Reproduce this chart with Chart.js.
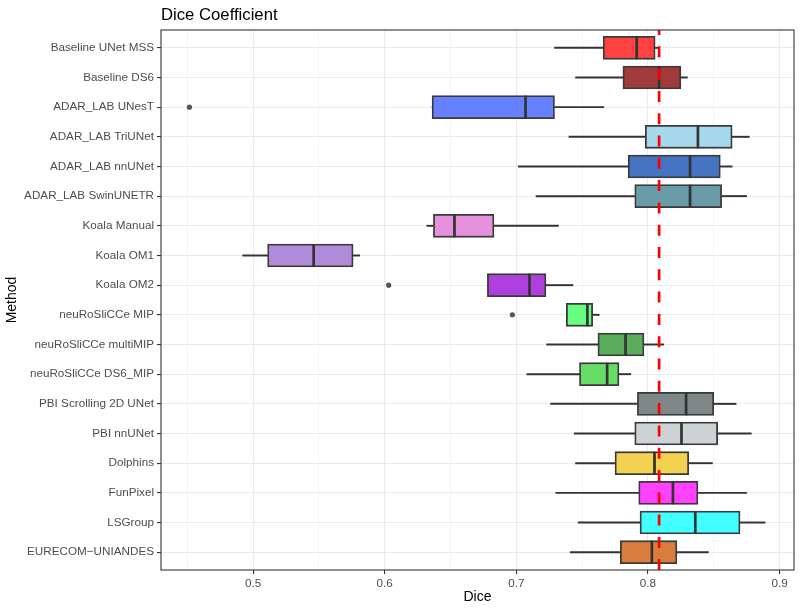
<!DOCTYPE html>
<html>
<head>
<meta charset="utf-8">
<script src="https://cdn.jsdelivr.net/npm/chart.js@4.4.1/dist/chart.umd.min.js"></script>
<style>
    body { margin: 0; background: #fff; }
    #wrap { width: 800px; height: 609px; }
</style>
</head>
<body>
<div id="wrap"><canvas id="diceChart" width="800" height="609"></canvas></div>
<script>

// methods, top to bottom
const methods = [
    "Baseline UNet MSS", "Baseline DS6", "ADAR_LAB UNesT", "ADAR_LAB TriUNet",
    "ADAR_LAB nnUNet", "ADAR_LAB SwinUNETR", "Koala Manual", "Koala OM1", "Koala OM2",
    "neuRoSliCCe MIP", "neuRoSliCCe multiMIP", "neuRoSliCCe DS6_MIP",
    "PBI Scrolling 2D UNet", "PBI nnUNet", "Dolphins", "FunPixel", "LSGroup", "EURECOM\u2212UNIANDES"
];

const lowWhisker  = [0.729, 0.745, 0.636, 0.740, 0.7015, 0.715, 0.632, 0.492, 0.678, 0.738, 0.723, 0.708, 0.726, 0.744, 0.745, 0.730, 0.747, 0.741];
const q1          = [0.766, 0.781, 0.636, 0.798, 0.785, 0.790, 0.637, 0.511, 0.678, 0.738, 0.762, 0.748, 0.792, 0.790, 0.775, 0.793, 0.794, 0.779];
const median      = [0.7915, 0.8085, 0.707, 0.838, 0.832, 0.832, 0.653, 0.546, 0.710, 0.754, 0.783, 0.769, 0.829, 0.8255, 0.805, 0.819, 0.836, 0.803];
const q3          = [0.8055, 0.825, 0.729, 0.864, 0.855, 0.856, 0.683, 0.576, 0.7225, 0.758, 0.797, 0.778, 0.850, 0.853, 0.831, 0.838, 0.870, 0.822];
const highWhisker = [0.808, 0.830, 0.7665, 0.877, 0.864, 0.875, 0.732, 0.581, 0.743, 0.763, 0.812, 0.787, 0.867, 0.8785, 0.849, 0.875, 0.889, 0.846];

const outlierMethods = ["ADAR_LAB UNesT", "Koala OM2", "neuRoSliCCe MIP"];
const outlierValues  = [0.4516, 0.603, 0.697];

const meanDice = 0.8085;

const xTicks = [0.5, 0.6, 0.7, 0.8, 0.9];

const boxColors = [
    "#FF4141", "#A13B3B", "#6680FF", "#A6D8EE", "#4474C2", "#6A9CA8",
    "#E591DD", "#B08BDA", "#B040DE", "#66FF7F", "#5AAB5A", "#66DD66",
    "#7F8888", "#CDD2D5", "#F2D250", "#FF41FF", "#41FFFF", "#D97D3F"
];

const FONT = "'Liberation Sans', Arial, sans-serif";

const idx = (name) => methods.indexOf(name);

const isMajor = (v) => xTicks.some(t => Math.abs(t - v) < 1e-6);

const extras = {
    id: "extras",
    afterDatasetsDraw(chart) {
        const { ctx, chartArea: a, scales } = chart;
        const x = scales.x.getPixelForValue(meanDice);
        ctx.save();
        ctx.strokeStyle = "#FF0000";
        ctx.lineWidth = 2.7;
        ctx.setLineDash([11, 11.3]);
        ctx.lineDashOffset = 6;
        ctx.beginPath();
        ctx.moveTo(x, a.top);
        ctx.lineTo(x, a.bottom);
        ctx.stroke();
        ctx.setLineDash([]);
        ctx.strokeStyle = "#333333";
        ctx.lineWidth = 1.1;
        ctx.strokeRect(a.left, a.top, a.right - a.left, a.bottom - a.top);
        ctx.fillStyle = "#000";
        ctx.font = "16.7px " + FONT;
        ctx.textBaseline = "alphabetic";
        ctx.fillText("Dice Coefficient", a.left, 19.5);
        ctx.restore();
    }
};

const whiskerStyle = {
    type: "bar",
    backgroundColor: "#333333",
    borderWidth: 0,
    barThickness: 1.3,
    grouped: false,
    order: 3
};

new Chart(document.getElementById("diceChart"), {
    type: "bar",
    data: {
        datasets: [
            {
                type: "line",
                label: "median",
                data: median.map((v, i) => ({ x: v, y: i })),
                showLine: false,
                pointStyle: "line",
                rotation: 90,
                pointRadius: 11.5,
                pointBorderWidth: 2.7,
                pointBorderColor: "#333333",
                order: 0
            },
            {
                type: "bar",
                label: "box",
                data: q1.map((v, i) => ({ x: [v, q3[i]], y: i })),
                backgroundColor: boxColors,
                borderColor: "#3A3A3A",
                borderWidth: 1.8,
                borderSkipped: false,
                barThickness: 23,
                grouped: false,
                order: 1
            },
            {
                ...whiskerStyle,
                label: "low",
                data: lowWhisker.map((v, i) => ({ x: [v, q1[i]], y: i }))
            },
            {
                ...whiskerStyle,
                label: "high",
                data: highWhisker.map((v, i) => ({ x: [q3[i], v], y: i }))
            },
            {
                type: "line",
                label: "outliers",
                data: outlierValues.map((v, i) => ({ x: v, y: idx(outlierMethods[i]) })),
                showLine: false,
                pointRadius: 2.6,
                pointBorderWidth: 0,
                pointBackgroundColor: "#555555",
                order: 2
            }
        ]
    },
    options: {
        indexAxis: "y",
        responsive: false,
        animation: false,
        layout: { autoPadding: false, padding: { top: 30, right: 6, bottom: 0, left: 0 } },
        plugins: {
            legend: { display: false },
            tooltip: { enabled: false },
            title: { display: false }
        },
        scales: {
            x: {
                type: "linear",
                min: 0.43,
                max: 0.911,
                afterFit: (s) => { s.height = 39; s.paddingLeft = 0; s.paddingRight = 0; },
                ticks: {
                    stepSize: 0.05,
                    includeBounds: false,
                    autoSkip: false,
                    maxRotation: 0,
                    color: "#4D4D4D",
                    font: { family: FONT, size: 11.7 },
                    padding: 3,
                    callback: (v) => isMajor(v) ? v.toFixed(1) : ""
                },
                grid: {
                    color: "#EBEBEB",
                    lineWidth: (c) => isMajor(c.tick.value) ? 1.1 : 0.55,
                    tickColor: (c) => isMajor(c.tick.value) ? "#333333" : "rgba(0,0,0,0)",
                    tickLength: 4,
                    tickWidth: 1.1
                },
                border: { display: false },
                title: {
                    display: true,
                    text: "Dice",
                    color: "#000",
                    font: { family: FONT, size: 14 },
                    padding: { top: 0, bottom: 3 }
                }
            },
            y: {
                type: "linear",
                reverse: true,
                offset: false,
                min: -0.6,
                max: methods.length - 0.4,
                afterFit: (s) => { s.width = 161; s.paddingTop = 0; s.paddingBottom = 0; },
                ticks: {
                    stepSize: 1,
                    includeBounds: false,
                    autoSkip: false,
                    color: "#4D4D4D",
                    font: { family: FONT, size: 11.7 },
                    padding: 3,
                    callback: (v) => methods[v] ?? ""
                },
                grid: {
                    offset: false,
                    color: "#EBEBEB",
                    lineWidth: 1.1,
                    tickColor: "#333333",
                    tickLength: 4,
                    tickWidth: 1.1
                },
                border: { display: false },
                title: {
                    display: true,
                    text: "Method",
                    color: "#000",
                    font: { family: FONT, size: 14 },
                    padding: { top: 4, bottom: 4 }
                }
            }
        }
    },
    plugins: [extras]
});

</script>
</body>
</html>
